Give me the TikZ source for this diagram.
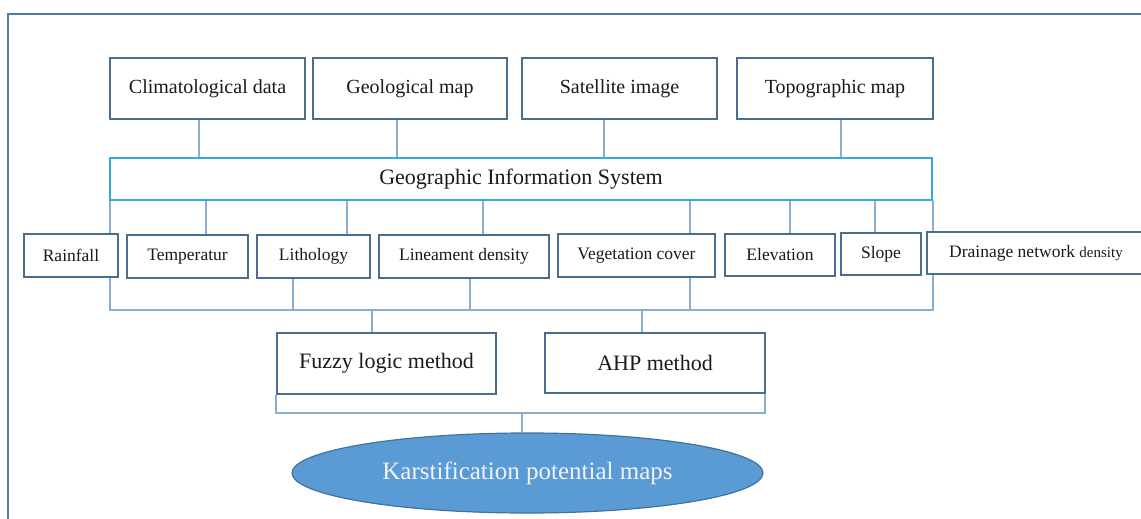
\documentclass[tikz,border=0pt]{standalone}
\usepackage{fontspec}
\setmainfont{Liberation Serif}
\usetikzlibrary{shapes.geometric}
\definecolor{boxc}{HTML}{4A6E92}
\definecolor{gisc}{HTML}{33AADB}
\definecolor{connc}{HTML}{8AADD0}
\definecolor{framec}{HTML}{4F79A6}
\definecolor{ellf}{HTML}{5B9BD5}
\definecolor{elld}{HTML}{41719C}
\definecolor{txt}{HTML}{1A1A1A}
\tikzset{
  box/.style={draw=boxc, line width=2.4pt, fill=white, text=txt, inner sep=0pt, align=center},
  topbox/.style={box, minimum height=61pt, font=\fontsize{20}{22}\selectfont},
  rowbox/.style={box, minimum height=43pt, font=\fontsize{17.5}{20}\selectfont},
  methbox/.style={box, minimum height=61pt, font=\fontsize{22}{24}\selectfont},
  gisbox/.style={draw=gisc, line width=2.6pt, fill=white, text=txt, inner sep=0pt, minimum height=42pt, font=\fontsize{22}{24}\selectfont},
  conn/.style={draw=connc, line width=1.2pt},
  frame/.style={draw=framec, line width=2.4pt},
  result/.style={ellipse, draw=elld, line width=1.2pt, fill=ellf, text=white!95!blue, inner sep=0pt, font=\fontsize{25}{27}\selectfont}
}
\begin{document}
\begin{tikzpicture}[x=1pt, y=-1pt]
\useasboundingbox (0,0) rectangle (1141,519);
\clip (0,0) rectangle (1141,519);
\draw[frame] (8,14) rectangle (1170,560);

% helper coordinates for connector positions
\coordinate (x199) at (199,0);
\coordinate (x397) at (397,0);
\coordinate (x604) at (604,0);
\coordinate (x841) at (841,0);
\coordinate (x206) at (206,0);
\coordinate (x347) at (347,0);
\coordinate (x483) at (483,0);
\coordinate (x690) at (690,0);
\coordinate (x790) at (790,0);
\coordinate (x875) at (875,0);
\coordinate (b293) at (293,310);
\coordinate (b470) at (470,310);
\coordinate (bl) at (110,310);
\coordinate (br) at (933,310);
\coordinate (bf) at (372,310);
\coordinate (ba) at (642,310);
\coordinate (ll) at (276,413);
\coordinate (lr) at (765,413);
\coordinate (lm) at (522,413);

\node[gisbox, minimum width=822pt] (gis) at (521,179) {Geographic Information System};

\node[topbox, minimum width=195pt] (clim) at (207.5,88.5) {Climatological data};
\node[topbox, minimum width=194pt] (geol) at (410,88.5) {Geological map};
\node[topbox, minimum width=195pt] (sat) at (619.5,88.5) {Satellite image};
\node[topbox, minimum width=196pt] (topo) at (835,88.5) {Topographic map};

\draw[conn] (clim.south -| x199) -- (gis.north -| x199);
\draw[conn] (geol.south -| x397) -- (gis.north -| x397);
\draw[conn] (sat.south -| x604) -- (gis.north -| x604);
\draw[conn] (topo.south -| x841) -- (gis.north -| x841);

% connectors from GIS to the factor boxes (drawn before the boxes)
\draw[conn] (gis.south -| bl) -- ++(0,33);
\draw[conn] (gis.south -| x206) -- ++(0,33);
\draw[conn] (gis.south -| x347) -- ++(0,33);
\draw[conn] (gis.south -| x483) -- ++(0,33);
\draw[conn] (gis.south -| x690) -- ++(0,32);
\draw[conn] (gis.south -| x790) -- ++(0,32);
\draw[conn] (gis.south -| x875) -- ++(0,31);
\draw[conn] (gis.south -| br) -- (br);

\node[rowbox, minimum width=94pt] (rain) at (71,255.5) {Rainfall};
\node[rowbox, minimum width=121pt] (temp) at (187.5,256.5) {Temperatur};
\node[rowbox, minimum width=113pt] (lith) at (313.5,256.5) {Lithology};
\node[rowbox, minimum width=170pt] (line) at (464,256.5) {Lineament density};
\node[rowbox, minimum width=157pt] (veg) at (636.5,255.5) {Vegetation cover};
\node[rowbox, minimum width=110pt, minimum height=42pt] (elev) at (780,255) {Elevation};
\node[rowbox, minimum width=80pt, minimum height=42pt] (slope) at (881,254) {Slope};
\node[rowbox, minimum width=218pt, minimum height=42pt] (drain) at (1036,253) {Drainage network {\fontsize{15}{17}\selectfont density}};

% collecting bracket
\draw[conn] (rain.south -| bl) -- (bl) -- (br) -- (drain.south -| br);
\draw[conn] (lith.south -| b293) -- (b293);
\draw[conn] (line.south -| b470) -- (b470);
\draw[conn] (veg.south -| x690) -- (bl -| x690);

\node[methbox, minimum width=219pt] (fuzzy) at (386.5,363.5) {Fuzzy logic method};
\node[methbox, minimum width=220pt, minimum height=60pt] (ahp) at (655,363) {AHP method};

\draw[conn] (bf) -- (fuzzy.north -| bf);
\draw[conn] (ba) -- (ahp.north -| ba);

\draw[conn] (fuzzy.south -| ll) -- (ll) -- (lr) -- (ahp.south -| lr);

\node[result, minimum width=471pt, minimum height=80pt] (kmap) at (527.5,473) {Karstification potential maps};
\draw[conn] (lm) -- (kmap.north -| lm);
\end{tikzpicture}
\end{document}
